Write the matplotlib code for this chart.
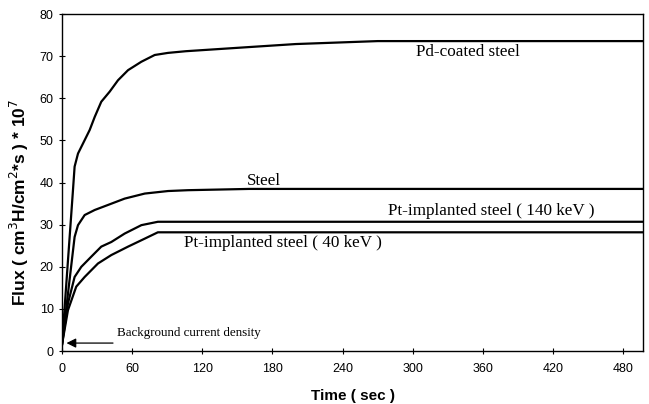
import numpy as np
import matplotlib
matplotlib.use("Agg")
import matplotlib.pyplot as plt

# Flux transients (time in s, flux in 1e-7 cm3H/cm2 s)
t_pd = [0, 9.4, 10.8, 13.7, 18, 23.7, 28, 33.6, 40.8, 47.9, 56.5, 67.9,
        79.3, 90.7, 106, 161, 200, 270, 497]
v_pd = [1.5, 38.2, 43.8, 46.9, 49.3, 52.5, 55.6, 59.2, 61.6, 64.3, 66.7,
        68.7, 70.3, 70.8, 71.2, 72.2, 72.9, 73.6, 73.6]

t_st = [0, 10.8, 13.7, 19.4, 28, 39.4, 53.6, 70.8, 90.7, 107.8, 160, 497]
v_st = [1.5, 27.1, 29.9, 32.3, 33.5, 34.7, 36.2, 37.4, 38.0, 38.2, 38.5, 38.5]

t_pt140 = [0, 5.1, 10.8, 16.5, 25, 33.6, 42.2, 53.6, 67.9, 82, 497]
v_pt140 = [1.5, 11.3, 17.6, 20.0, 22.4, 24.8, 25.9, 27.9, 29.9, 30.7, 30.7]

t_pt40 = [0, 5.1, 12.2, 19.4, 30.8, 42.2, 56.5, 70.8, 82, 497]
v_pt40 = [1.5, 9.7, 15.3, 17.6, 20.8, 22.8, 24.8, 26.7, 28.2, 28.2]

labels = ["Pd-coated steel", "Steel", "Pt-implanted steel ( 140 keV )",
          "Pt-implanted steel ( 40 keV )"]
label_pos = [(303, 71.0), (158, 40.4), (279, 33.2), (104, 25.6)]

serif = ["Liberation Serif", "DejaVu Serif"]
sans = ["Liberation Sans", "DejaVu Sans"]

fig = plt.figure(figsize=(6.49, 4.04), dpi=100)
ax = fig.add_axes([0.0955, 0.131, 0.8955, 0.834])

for t, v in [(t_pd, v_pd), (t_st, v_st), (t_pt140, v_pt140), (t_pt40, v_pt40)]:
    ax.plot(t, v, color="black", lw=1.6, solid_joinstyle="round")

for lab, (x, y) in zip(labels, label_pos):
    ax.text(x, y, lab, family=serif, fontsize=12.3, ha="left", va="center")

ax.annotate("", xy=(1.5, 1.9), xytext=(46, 1.9),
            arrowprops=dict(arrowstyle="-|>", color="black", lw=0.9,
                            mutation_scale=14))
ax.text(47, 4.3, "Background current density", family=serif,
        fontsize=9.4, ha="left", va="center")

ax.set_xlim(0, 497)
ax.set_ylim(0, 80)
ax.set_xticks(np.arange(0, 481, 60))
ax.set_yticks(np.arange(0, 81, 10))
ax.tick_params(direction="inout", length=5, width=0.8, labelsize=9)
ax.tick_params(axis="x", pad=6)
for lbl in ax.get_xticklabels() + ax.get_yticklabels():
    lbl.set_family(sans)
for s in ax.spines.values():
    s.set_linewidth(1.0)

ax.set_xlabel("Time ( sec )", family=sans, fontsize=11, fontweight="bold",
              labelpad=10)
ax.set_ylabel(r"Flux ( cm$^{3}$H/cm$^{2}$*s ) * 10$^{7}$", family=sans,
              fontsize=12.5, fontweight="bold")
ax.yaxis.set_label_coords(-0.053, 0.44)

fig.savefig("out.png", dpi=100)
